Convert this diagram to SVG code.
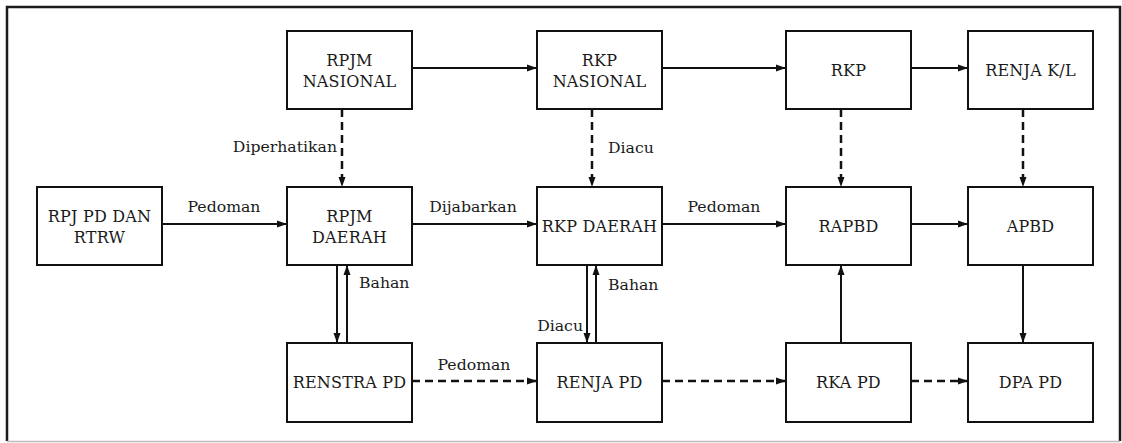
<svg xmlns="http://www.w3.org/2000/svg" width="1122" height="443" viewBox="0 0 1122 443">
<defs>
<marker id="ah" markerWidth="10" markerHeight="8" refX="10" refY="4" orient="auto" markerUnits="userSpaceOnUse">
<path d="M0,0.5 L10,4 L0,7.5 Z" fill="#111"/>
</marker>
<style>
.box{fill:#fff;stroke:#111;stroke-width:2}
.t{font-family:"DejaVu Serif","Liberation Serif",serif;font-size:16px;letter-spacing:0.2px;fill:#1a1a1a;text-anchor:middle}
.l{font-family:"DejaVu Serif","Liberation Serif",serif;font-size:15.7px;fill:#1a1a1a}
.c{text-anchor:middle}
.s{fill:none;stroke:#111;stroke-width:2;marker-end:url(#ah)}
.d{fill:none;stroke:#111;stroke-width:2.5;stroke-dasharray:8 5;marker-end:url(#ah)}
</style>
</defs>
<rect x="0" y="0" width="1122" height="443" fill="#fff"/>
<g id="frame">
<path d="M7,441 L7,7 L1120,7 L1120,441" fill="none" stroke="#1a1a1a" stroke-width="2.5"/>
<line x1="7" y1="441.5" x2="1120" y2="441.5" stroke="#bbb" stroke-width="1.5"/>
</g>
<g id="connectors">
<path class="s" d="M412,68 H537"/>
<path class="s" d="M662,68 H786"/>
<path class="s" d="M911,68 H968"/>
<path class="s" d="M162,224 H287"/>
<path class="s" d="M412,224 H537"/>
<path class="s" d="M662,224 H786"/>
<path class="s" d="M911,224 H968"/>
<path class="d" d="M342,109 V187"/>
<path class="d" d="M592,109 V187"/>
<path class="d" d="M841,109 V187"/>
<path class="d" d="M1023,109 V187"/>
<path class="s" d="M337,265 V343"/>
<path class="s" d="M347,343 V265"/>
<path class="s" d="M587,265 V343"/>
<path class="s" d="M596,343 V265"/>
<path class="s" d="M841,343 V265"/>
<path class="s" d="M1023,265 V343"/>
<path class="d" d="M412,381 H537"/>
<path class="d" d="M662,381 H786"/>
<path class="d" d="M911,381 H968"/>
<text class="l c" x="224" y="212">Pedoman</text>
<text class="l c" x="473" y="212">Dijabarkan</text>
<text class="l c" x="724" y="212">Pedoman</text>
<text class="l" x="337" y="152" text-anchor="end">Diperhatikan</text>
<text class="l" x="608" y="153">Diacu</text>
<text class="l" x="359" y="288">Bahan</text>
<text class="l" x="608" y="290">Bahan</text>
<text class="l" x="583" y="331" text-anchor="end">Diacu</text>
<text class="l c" x="474" y="370">Pedoman</text>
</g>
<g id="rpjm-nasional"><rect class="box" x="287" y="31" width="125" height="78"/><text class="t" x="349.5" y="66">RPJM</text><text class="t" x="349.5" y="87">NASIONAL</text></g>
<g id="rkp-nasional"><rect class="box" x="537" y="31" width="125" height="78"/><text class="t" x="599.5" y="66">RKP</text><text class="t" x="599.5" y="87">NASIONAL</text></g>
<g id="rkp"><rect class="box" x="786" y="31" width="125" height="78"/><text class="t" x="848.5" y="76">RKP</text></g>
<g id="renja-kl"><rect class="box" x="968" y="31" width="125" height="78"/><text class="t" x="1030.5" y="76">RENJA K/L</text></g>
<g id="rpj-pd"><rect class="box" x="37" y="187" width="125" height="78"/><text class="t" x="99.5" y="222">RPJ PD DAN</text><text class="t" x="99.5" y="243">RTRW</text></g>
<g id="rpjm-daerah"><rect class="box" x="287" y="187" width="125" height="78"/><text class="t" x="349.5" y="222">RPJM</text><text class="t" x="349.5" y="243">DAERAH</text></g>
<g id="rkp-daerah"><rect class="box" x="537" y="187" width="125" height="78"/><text class="t" x="599.5" y="232">RKP DAERAH</text></g>
<g id="rapbd"><rect class="box" x="786" y="187" width="125" height="78"/><text class="t" x="848.5" y="232">RAPBD</text></g>
<g id="apbd"><rect class="box" x="968" y="187" width="125" height="78"/><text class="t" x="1030.5" y="232">APBD</text></g>
<g id="renstra-pd"><rect class="box" x="287" y="343" width="125" height="79"/><text class="t" x="349.5" y="388">RENSTRA PD</text></g>
<g id="renja-pd"><rect class="box" x="537" y="343" width="125" height="79"/><text class="t" x="599.5" y="388">RENJA PD</text></g>
<g id="rka-pd"><rect class="box" x="786" y="343" width="125" height="79"/><text class="t" x="848.5" y="388">RKA PD</text></g>
<g id="dpa-pd"><rect class="box" x="968" y="343" width="125" height="79"/><text class="t" x="1030.5" y="388">DPA PD</text></g>
</svg>
